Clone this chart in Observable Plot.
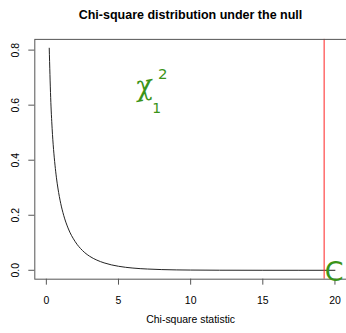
<!DOCTYPE html>
<html>
<head>
<meta charset="utf-8">
<script src="https://cdn.jsdelivr.net/npm/d3@7"></script>
<script src="https://cdn.jsdelivr.net/npm/@observablehq/plot@0.6"></script>
<style>
  html, body { margin: 0; padding: 0; background: #fff; overflow: hidden; }
  #wrap { position: relative; width: 346px; height: 333px; overflow: hidden; }
  #title { position: absolute; left: 34px; width: 313px; top: 8px; text-align: center;
    font: bold 12.5px "Liberation Sans", Arial, sans-serif; color: #000; }
  svg { display: block; }
</style>
</head>
<body>
<div id="wrap">
  <div id="chart"></div>
  <div id="title">Chi-square distribution under the null</div>
</div>
<script>
// Chi-square (df = 1) density
const xs = [0.2, 0.3, 0.4, 0.5, 0.6, 0.7, 0.8, 1.0, 1.2, 1.5, 2.0, 2.5, 3.0, 3.5, 4.0, 5.0, 6.0, 7.0, 8.0, 10, 12, 15, 20];
const ys = [0.807, 0.627, 0.516, 0.439, 0.382, 0.336, 0.299, 0.242, 0.200, 0.154, 0.104, 0.072, 0.051, 0.037, 0.027, 0.0146, 0.0081, 0.0046, 0.0026, 0.00085, 0.0003, 0.00006, 0.0];
const criticalX = [19.25];
const xTicks = [0, 5, 10, 15, 20];
const yTicks = [0, 0.2, 0.4, 0.6, 0.8];
const xDomain = [-0.8, 20.8];
const yDomain = [-0.0323, 0.839];
const annoLabels = ["χ"];
const annoX = [6.75];
const annoY = [0.67];

const curve = xs.map((x, i) => ({x, y: ys[i]}));
const anno = annoLabels.map((t, i) => ({t, x: annoX[i], y: annoY[i]}));

const font = '"Liberation Sans", Arial, sans-serif';
const green = "#3a9418";
const plot = Plot.plot({
  width: 347,
  height: 333,
  marginTop: 39,
  marginBottom: 53.5,
  marginLeft: 34.4,
  marginRight: 0,
  style: {fontFamily: font, fontSize: "10px", color: "#000", background: "#fff"},
  x: {domain: xDomain, ticks: xTicks, label: null},
  y: {domain: yDomain, ticks: yTicks, label: null},
  marks: [
    Plot.line(curve, {x: "x", y: "y", curve: "monotone-x", stroke: "#222", strokeWidth: 1}),
    Plot.ruleX(criticalX, {stroke: "#ff2020", strokeWidth: 1}),
    Plot.frame({stroke: "#555", strokeWidth: 1}),
    Plot.axisX({ticks: xTicks, tickSize: 6, tickPadding: 11, stroke: "#555", fontSize: 10.5, label: null}),
    Plot.axisY({ticks: yTicks, tickSize: 6, stroke: "#555", tickFormat: () => "", label: null}),
    Plot.text(yTicks, {y: d => d, frameAnchor: "left", dx: -19, rotate: -90, textAnchor: "middle", fontSize: 10.5, fill: "#000", text: d => d.toFixed(1)}),
    Plot.text(["Chi-square statistic"], {frameAnchor: "bottom", dy: 44, fontSize: 10.5, fill: "#000"}),
    Plot.text(anno, {x: "x", y: "y", text: "t", fontSize: 28, fill: green, fontStyle: "italic", fontFamily: "DejaVu Serif", rotate: -10}),
    Plot.text(anno, {x: "x", y: "y", text: () => "2", dx: 19, dy: -12, fontSize: 15, fill: green, fontFamily: "DejaVu Sans"}),
    Plot.text(anno, {x: "x", y: "y", text: () => "1", dx: 13, dy: 23, fontSize: 14, fill: green, fontFamily: "DejaVu Sans"}),
    Plot.text(criticalX.map(() => ({x: 19.95, y: 0})), {x: "x", y: "y", text: () => "C", dy: 2, fontSize: 27, fill: green, fontFamily: "DejaVu Sans"})
  ]
});
document.getElementById("chart").appendChild(plot);
</script>
</body>
</html>
